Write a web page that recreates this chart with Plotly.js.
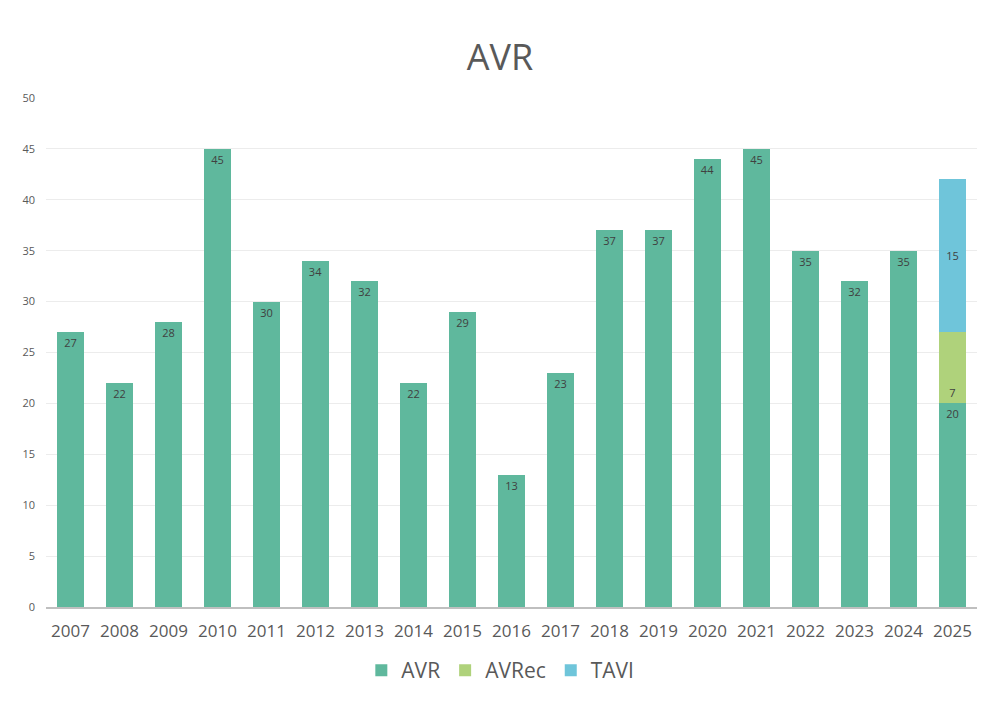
<!DOCTYPE html>
<html>
<head>
<meta charset="utf-8">
<script src="https://cdn.plot.ly/plotly-3.0.1.min.js"></script>
<style>
  html, body { margin: 0; padding: 0; background: #ffffff; }
  #chart { width: 1000px; height: 720px; }
</style>
</head>
<body>
<div id="chart"></div>
<script>
// Years on the category axis
const years = ['2007','2008','2009','2010','2011','2012','2013','2014','2015','2016',
               '2017','2018','2019','2020','2021','2022','2023','2024','2025'];

// Procedures per year, by type
const avr   = [27, 22, 28, 45, 30, 34, 32, 22, 29, 13, 23, 37, 37, 44, 45, 35, 32, 35, 20];
const avrec = [null, null, null, null, null, null, null, null, null, null,
               null, null, null, null, null, null, null, null, 7];
const tavi  = [null, null, null, null, null, null, null, null, null, null,
               null, null, null, null, null, null, null, null, 15];

const labelFont = { family: 'Open Sans, Noto Sans, sans-serif', size: 11, color: '#404040' };

function series(name, values, color, anchor) {
  return {
    type: 'bar',
    name: name,
    x: years,
    y: values,
    marker: { color: color, line: { width: 0 } },
    text: values.map(v => v == null ? '' : String(v)),
    texttemplate: '%{text}',
    textposition: 'inside',
    insidetextanchor: anchor,
    insidetextfont: labelFont,
    textangle: 0,
    hoverinfo: 'x+y+name'
  };
}

const data = [
  series('AVR',   avr,   '#5fb89d', 'end'),
  series('AVRec', avrec, '#afd27b', 'start'),
  series('TAVI',  tavi,  '#6fc5da', 'middle')
];

const layout = {
  width: 1000,
  height: 720,
  paper_bgcolor: '#ffffff',
  plot_bgcolor: '#ffffff',
  barmode: 'stack',
  bargap: 0.45,
  margin: { l: 46, r: 23, t: 98, b: 113 },
  font: { family: 'Open Sans, Noto Sans, sans-serif', color: '#595959' },
  title: {
    text: 'AVR',
    x: 0.5,
    xanchor: 'center',
    y: 0.92,
    yanchor: 'middle',
    font: { family: 'Open Sans, Noto Sans, sans-serif', size: 36, color: '#595959' }
  },
  xaxis: {
    type: 'category',
    tickfont: { size: 17, color: '#595959' },
    ticklabelstandoff: 8,
    showline: true,
    linecolor: '#bfbfbf',
    linewidth: 2,
    ticks: '',
    showgrid: false,
    zeroline: false
  },
  yaxis: {
    range: [0, 50],
    dtick: 5,
    tick0: 0,
    tickfont: { size: 11, color: '#595959' },
    ticklabelstandoff: 10,
    gridcolor: '#ececec',
    gridwidth: 1,
    zeroline: false,
    showline: false,
    ticks: '',
    ticklen: 0,
    automargin: false
  },
  showlegend: true,
  legend: {
    orientation: 'h',
    x: 0.488,
    xanchor: 'center',
    y: -0.125,
    yanchor: 'middle',
    font: { size: 21, color: '#595959' },
    itemwidth: 30,
    traceorder: 'normal'
  }
};

Plotly.newPlot('chart', data, layout, { displayModeBar: false, staticPlot: true });
</script>
</body>
</html>
